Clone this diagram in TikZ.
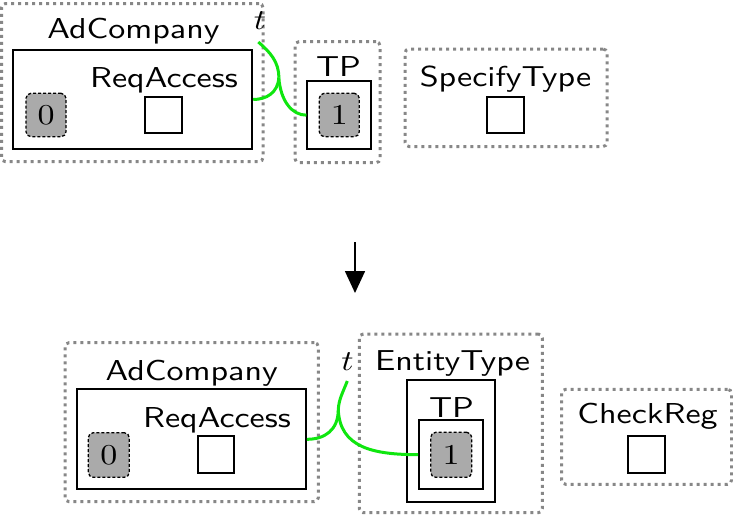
\documentclass[tikz,border=0pt]{standalone}
\usepackage{fontspec}
\usepackage{graphicx}
\usetikzlibrary{arrows.meta,fit}
\definecolor{linkgreen}{RGB}{15,230,15}
\definecolor{tokgray}{RGB}{170,170,170}
\definecolor{dotgray}{RGB}{135,135,135}
\newcommand{\stretchtxt}[1]{\scalebox{3.4}[2.88]{#1}}
\begin{document}
\begin{tikzpicture}[x=1pt,y=-1pt,
  dotbox/.style={draw=dotgray, line width=3pt, dash pattern=on 3pt off 4pt, rounded corners=4pt, inner sep=0pt},
  solidbox/.style={draw=black, line width=1.8pt, inner sep=0pt},
  sqbox/.style={draw=black, line width=1.8pt, inner sep=0pt},
  tokbox/.style={draw=black, fill=tokgray, line width=1.3pt, dash pattern=on 3pt off 2pt, rounded corners=5pt, inner sep=0pt},
  lbl/.style={inner sep=0pt, anchor=base, font=\fontsize{10}{12}\selectfont\sffamily},
  digit/.style={inner sep=0pt, font=\fontsize{10}{12}\selectfont\rmfamily},
  tlbl/.style={inner sep=0pt, anchor=base, font=\fontsize{10}{12}\selectfont},
  link/.style={draw=linkgreen, line width=3pt},
  flow/.style={draw=black, line width=1.6pt, -{Triangle[length=22pt,width=20pt]}}
]
\useasboundingbox (0,0) rectangle (733,515);

% ---------- top ----------
\node[dotbox, fit={(1.5,3.5) (263,161.7)}] (adcO1) {};
\node[solidbox, fit={(13.3,50) (252.3,149)}] (adcI1) {};
\node[lbl] (adcL1) at (133.5,38) {\stretchtxt{AdCompany}};
\node[lbl] (reqL1) at (164,87) {\stretchtxt{ReqAccess}};
\node[sqbox, fit={(145,96.7) (181.7,133.3)}] (reqS1) {};
\node[tokbox, fit={(26,93.3) (66,136.7)}] (tok01) {};
\node[digit] at (tok01.center) (tok01L) {\stretchtxt{0}};
\node[tlbl] (t1) at (260,29) {\stretchtxt{$t$}};

\node[dotbox, fit={(295,41.7) (380,162.7)}] (tpO1) {};
\node[lbl] (tpL1) at (338.5,76) {\stretchtxt{TP}};
\node[solidbox, fit={(307.3,81) (371,149.3)}] (tpI1) {};
\node[tokbox, fit={(319.3,93.3) (359.3,136.7)}] (tok11) {};
\node[digit] at (tok11.center) (tok11L) {\stretchtxt{1}};

\node[dotbox, fit={(405,49) (607,146.5)}] (stO) {};
\node[lbl] (stL) at (505.5,86.7) {\stretchtxt{SpecifyType}};
\node[sqbox, fit={(487,96.7) (524,133.3)}] (stS) {};

\coordinate (ts1) at (258.3,42);
\coordinate (j1) at (278.8,77.5);
\draw[link] (ts1) .. controls (270,52) and (279,62) .. (j1);
\draw[link] (j1) .. controls (278,93) and (266,99.5) .. (adcI1.east);
\draw[link] (j1) .. controls (280.5,101) and (292,115.2) .. (tpI1.west);

% ---------- arrow ----------
\coordinate (aS) at (355,242);
\coordinate (aE) at (355,293);
\draw[flow] (aS) -- (aE);

% ---------- bottom ----------
\node[dotbox, fit={(65,342.7) (318.3,501.7)}] (adcO2) {};
\node[solidbox, fit={(76.7,389.3) (306,489.3)}] (adcI2) {};
\node[lbl] (adcL2) at (191.7,380) {\stretchtxt{AdCompany}};
\node[lbl] (reqL2) at (217,427) {\stretchtxt{ReqAccess}};
\node[sqbox, fit={(198.3,436) (234.3,472.7)}] (reqS2) {};
\node[tokbox, fit={(88.3,432.7) (129.3,477.3)}] (tok02) {};
\node[digit] at (tok02.center) (tok02L) {\stretchtxt{0}};
\node[tlbl] (t2) at (347.5,370) {\stretchtxt{$t$}};

\node[dotbox, fit={(359.3,334) (542.3,512.7)}] (etO) {};
\node[lbl] (etL) at (452.5,370) {\stretchtxt{EntityType}};
\node[solidbox, fit={(407.3,380) (495,501.7)}] (etI) {};
\node[lbl] (tpL2) at (451.5,417) {\stretchtxt{TP}};
\node[solidbox, fit={(419,420) (483.3,489.3)}] (tpI2) {};
\node[tokbox, fit={(430.7,432.3) (471.7,477.3)}] (tok12) {};
\node[digit] at (tok12.center) (tok12L) {\stretchtxt{1}};

\node[dotbox, fit={(561.7,389.3) (731.5,484.3)}] (crO) {};
\node[lbl] (crL) at (647.5,423) {\stretchtxt{CheckReg}};
\node[sqbox, fit={(628.3,436) (665,472.7)}] (crS) {};

\coordinate (ts2) at (347.3,381);
\coordinate (j2) at (338.3,410);
\draw[link] (ts2) .. controls (343,392) and (338.5,400) .. (j2);
\draw[link] (j2) .. controls (338,430) and (325,439.3) .. (adcI2.east);
\draw[link] (j2) .. controls (340,447) and (372,454.7) .. (tpI2.west);
\end{tikzpicture}
\end{document}
